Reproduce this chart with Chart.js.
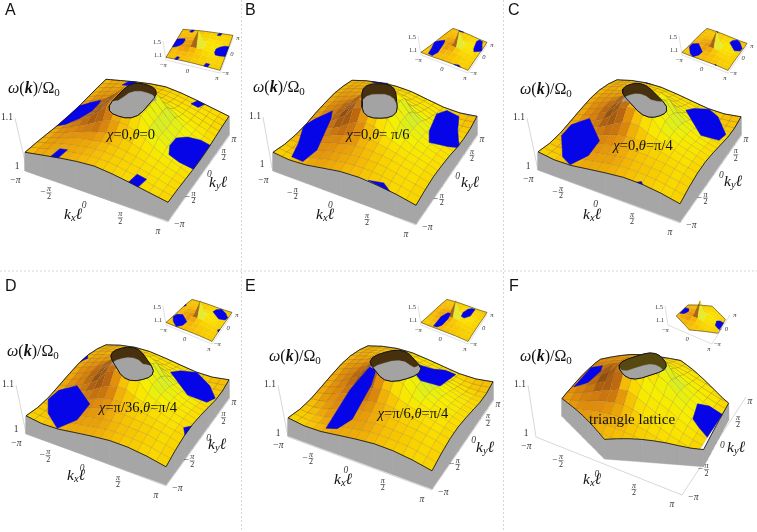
<!DOCTYPE html>
<html>
<head>
<meta charset="utf-8">
<style>
html,body{margin:0;padding:0;background:#fff}
canvas{display:block;filter:blur(0.35px)}
</style>
<script src="https://cdn.jsdelivr.net/npm/chart.js@4/dist/chart.umd.min.js"></script>
</head>
<body>
<canvas id="c" width="757" height="532"></canvas>
<script>
const PI = Math.PI;

// rows go ky=-pi..0, columns kx=-pi..pi, the other half comes from omega(k)=omega(-k)
const omegaA = [
[36,39,42,45,48,51,53,55,56,55,53,51,48,45,42,39,36],
[35,39,43,47,50,53,56,58,58,58,56,53,50,47,43,39,35],
[35,39,44,48,52,55,58,60,61,60,58,55,52,48,44,39,35],
[34,39,44,49,54,58,61,64,65,64,61,58,54,49,44,39,34],
[33,39,44,50,56,62,67,71,72,71,67,62,56,50,44,39,33],
[32,38,45,52,60,70,78,85,86,85,78,70,60,52,45,38,32],
[31,38,46,56,68,82,100,108,108,108,100,82,68,56,46,38,31],
[30,37,45,55,67,84,108,108,108,108,108,84,67,55,45,37,30],
[30,37,45,54,65,82,108,108,108,108,108,82,65,54,45,37,30]];
const omegaB = [
[36,32,33,33,35,39,41,45,47,49,49,50,47,45,43,39,36],
[34,32,31,33,37,42,46,49,52,53,54,54,52,49,46,42,38],
[31,30,31,35,40,46,50,53,56,58,59,58,56,52,48,44,40],
[30,30,33,39,45,51,55,60,62,64,63,62,59,55,51,46,41],
[30,32,37,43,49,56,62,68,70,71,68,65,61,56,52,47,42],
[30,35,40,47,54,62,74,82,85,85,76,69,63,57,52,47,41],
[32,38,44,52,62,74,95,108,108,108,95,74,66,57,51,45,40],
[35,41,47,55,66,82,108,108,108,108,108,84,68,59,51,45,39],
[37,43,49,57,67,83,108,108,108,108,108,83,67,57,49,43,37]];
const omegaC = [
[35,33,31,31,32,34,37,40,42,44,46,46,46,43,42,38,35],
[33,31,30,31,34,38,41,44,47,50,51,51,50,49,46,42,38],
[31,30,31,33,37,42,46,49,52,55,56,55,54,53,49,46,42],
[31,31,33,38,42,48,52,57,60,61,61,60,58,56,53,49,43],
[32,34,37,42,48,54,60,66,68,70,68,65,62,58,54,50,46],
[34,38,42,48,54,62,72,80,84,84,76,70,65,61,55,51,46],
[37,41,46,52,60,72,92,108,108,108,94,76,68,61,56,51,46],
[40,44,49,57,66,80,108,108,108,108,108,84,70,61,55,50,44],
[42,47,52,60,68,84,108,108,108,108,108,84,68,60,52,47,42]];
const omegaD = omegaC;
const omegaE = omegaC;
const omegaF = [
[33,33,33,33,33,33,34,34,34,34,34,33,33,33,33,33,33],
[33,33,33,33,34,37,38,40,40,40,38,37,34,33,33,33,33],
[33,33,33,35,39,42,45,46,47,46,45,42,39,35,33,33,33],
[33,33,35,40,44,49,52,55,56,55,52,49,44,40,35,33,33],
[33,34,39,44,50,56,62,66,68,66,62,56,50,44,39,34,33],
[33,37,42,49,56,65,72,80,84,78,70,62,56,49,42,37,33],
[34,38,45,52,62,72,96,108,100,86,76,68,62,52,45,38,34],
[34,40,46,55,66,80,100,108,108,100,84,72,66,55,46,40,34],
[34,40,47,56,68,84,92,108,108,108,92,84,68,56,47,40,34]];

// blue patches in (kx,ky), each also appears at -k unless the panel lists both
const blueA = [
  [[-PI,-0.94],[-PI,0.82],[-2.6,0.98],[-2.15,1.0],[-2.0,0.6],[-2.0,0],[-2.3,-0.5],[-2.75,-0.85]],
  [[-1.95,-PI],[-1.6,-PI],[-1.5,-2.65],[-1.85,-2.65]],
  [[1.5,-PI],[1.9,-PI],[2.0,-2.65],[1.6,-2.65]]];
const blueB = [
  [[-PI,-1.0],[-PI,-0.8],[-2.9,-0.5],[-2.3,0],[-2.0,-0.6],[-1.6,-2.3],[-1.8,-3.0],[-2.4,-2.9],[-2.7,-2.0],[-3.05,-1.2]],
  [[1.2,-PI],[2.1,-PI],[1.75,-2.95]]];
const blueC = [
  [[-3.0,-1.7],[-2.97,-1.02],[-2.32,-0.61],[-1.08,-1.82],[-1.16,-2.52],[-1.63,-3.12],[-2.18,-2.82]],
  [[1.35,-PI],[1.6,-PI],[1.5,-3.05]]];
const blueD = [
  [[-3.08,-1.7],[-2.95,-1.1],[-2.21,-0.81],[-0.95,-1.8],[-1.07,-2.55],[-1.63,-3.12],[-2.51,-2.48]],
  [[PI,-1.5],[PI,-0.9],[2.95,-1.2]]];
const blueE = [
  [[-1.48,-2.93],[-1.58,-1.02],[-1.15,-0.04],[-0.73,-0.1],[-0.52,-1.09],[-0.65,-2.34],[-1.01,-2.86]]];
const blueF = [
  [[-2.57,-0.85],[-2.4,0.44],[-1.89,0.44],[-1.73,-0.08],[-2.03,-0.63]],
  [[2.39,-0.33],[2.24,0.48],[2.6,0.8],[3.15,0.78],[3.14,-0.7],[2.69,-0.5]]];

const squareEdge = [[-PI,-PI],[PI,-PI],[PI,PI],[-PI,PI]];
const hexEdge = [[-2.77,-1.53],[-0.22,-2.9],[3.27,-1.37],[3.1,1.54],[0.52,2.82],[-2.32,1.16]];

const kTicks = [-PI,-PI/2,0,PI/2,PI];
const kTickLabels = ["\u2212\u03c0","\u2212\u03c0/2","0","\u03c0/2","\u03c0"];
const insetTicks = [-PI,0,PI];
const insetTickLabels = ["\u2212\u03c0","0","\u03c0"];
const zTickLabels = ["1","1.1"];
const insetZLabels = ["1.1","1.5"];
const panelLetters = ["A","B","C","D","E","F"];
const panelNotes = ["\u03c7=0,\u03b8=0","\u03c7=0,\u03b8= \u03c0/6","\u03c7=0,\u03b8=\u03c0/4","\u03c7=\u03c0/36,\u03b8=\u03c0/4","\u03c7=\u03c0/6,\u03b8=\u03c0/4","triangle lattice"];

// layout of each panel: floor corners L,B,R,T, z axis top, label places
const panels = [
 {rows:omegaA,blue:blueA,mirror:true,edge:squareEdge,L:[25,171],B:[168,221],R:[229,135],T:[106,98],zTop:[15,118],zBase:[27,170],
  hole:{t:0,a:0.72,b:1.25,cx:0,cy:0,drop:0.015,wall:"#46300e"},letter:[5,15],om:[8,89],kx:[73,215],ky:[218,183],note:[131,135],
  inL:[166,60],inB:[220,73],inR:[233,38],inT:[183,32]},
 {rows:omegaB,blue:blueB,mirror:true,edge:squareEdge,L:[273,171],B:[416,224],R:[477,135],T:[352,99],zTop:[263,117],zBase:[272,168],
  hole:{t:30,a:0.72,b:1.2,cx:0,cy:0,drop:0.02,wall:"#46300e"},letter:[245,15],om:[253,88],kx:[325,215],ky:[470,183],note:[378,135],
  inL:[421,55],inB:[468,73],inR:[487,45],inT:[453,31]},
 {rows:omegaC,blue:blueC,mirror:true,edge:squareEdge,L:[538,170],B:[680,222],R:[741,135],T:[617,98],zTop:[527,118],zBase:[538,170],
  hole:{t:58,a:0.62,b:1.25,cx:0,cy:0,drop:0.02,wall:"#46300e"},letter:[508,15],om:[520,90],kx:[592,215],ky:[733,182],note:[643,146],
  inL:[682,55],inB:[728,73],inR:[747,46],inT:[707,31]},
 {rows:omegaD,blue:blueD,mirror:true,edge:squareEdge,L:[26,434],B:[166,485],R:[229,398],T:[106,363],zTop:[16,385],zBase:[26,433],
  hole:{t:50,a:0.7,b:1.2,cx:0,cy:0,drop:0.02,wall:"#46300e"},letter:[5,291],om:[7,352],kx:[76,476],ky:[217,445],note:[138,408],
  inL:[166,325],inB:[212,344],inR:[232,315],inT:[192,302]},
 {rows:omegaE,blue:blueE,mirror:true,edge:squareEdge,L:[288,436],B:[432,489],R:[493,400],T:[368,364],zTop:[278,385],zBase:[288,437],
  hole:{t:55,a:0.9,b:1.02,cx:0,cy:0,drop:0.02,wall:"#46300e"},letter:[245,291],om:[269,357],kx:[343,480],ky:[485,448],note:[413,414],
  inL:[421,325],inB:[468,344],inR:[487,315],inT:[447,302]},
 {rows:omegaF,blue:blueF,mirror:false,edge:hexEdge,L:[536,437],B:[682,494],R:[745,397],T:[603,348],zTop:[528,385],zBase:[536,437],
  hole:{t:-36,a:0.6,b:0.95,cx:0.1,cy:0,drop:0.022,wall:"#57480f"},letter:[509,291],om:[520,357],kx:[592,480],ky:[736,448],note:[632,420],
  inL:[668,325],inB:[712,344],inR:[730,315],inT:[689,297]}
];

// outline of the opening at the top of the cone, unit size
const holeU = [1,1,0.92,0.7,0.38,0,-0.38,-0.7,-0.92,-1,-1,-1,-0.92,-0.7,-0.38,0,0.38,0.7,0.92,1,1];
const holeV = [0,0.4,0.68,0.88,0.98,1,0.98,0.88,0.68,0.4,0,-0.4,-0.68,-0.88,-0.98,-1,-0.98,-0.88,-0.68,-0.4,0];

const shadeStops = [
 [40,70,40,15],[26,120,65,15],[16,185,100,15],[9,225,140,10],[3,245,185,5],[-1,248,205,0],
 [-6,250,225,0],[-12,245,240,0],[-18,225,240,20],[-26,200,235,60],[-40,215,240,130]];

const STEP = 2*PI/16;

// the plot range stops at 1.1, so the top of the cone is cut there
function gridVal(rows,i,j) {
	i = Math.max(0,Math.min(16,i));
	j = Math.max(0,Math.min(16,j));
	return Math.min(100,i<=8 ? rows[i][j] : rows[16-i][16-j]);
}

function omegaAt(rows,kx,ky) {
	var fx = Math.min(16,Math.max(0,(kx+PI)/STEP));
	var fy = Math.min(16,Math.max(0,(ky+PI)/STEP));
	var j = Math.min(15,Math.floor(fx)), i = Math.min(15,Math.floor(fy));
	var u = fx-j, v = fy-i;
	var w = gridVal(rows,i,j)*(1-u)*(1-v)+gridVal(rows,i,j+1)*u*(1-v)+gridVal(rows,i+1,j)*(1-u)*v+gridVal(rows,i+1,j+1)*u*v;
	return 1+w/1000;
}

// perspective map of the unit square onto the four floor corners
function makeMap(view) {
	var L=view.L,B=view.B,R=view.R,T=view.T;
	var dx1=B[0]-R[0],dx2=T[0]-R[0],sx=L[0]-B[0]+R[0]-T[0];
	var dy1=B[1]-R[1],dy2=T[1]-R[1],sy=L[1]-B[1]+R[1]-T[1];
	var det=dx1*dy2-dx2*dy1;
	var g=(sx*dy2-dx2*sy)/det,h=(dx1*sy-sx*dy1)/det;
	view.m=[B[0]-L[0]+g*B[0],T[0]-L[0]+h*T[0],L[0],B[1]-L[1]+g*B[1],T[1]-L[1]+h*T[1],L[1],g,h];
	return view;
}

function project(view,kx,ky,w) {
	var u=(kx+PI)/(2*PI),v=(ky+PI)/(2*PI),m=view.m;
	var d=m[6]*u+m[7]*v+1;
	return {x:(m[0]*u+m[1]*v+m[2])/d,y:(m[3]*u+m[4]*v+m[5])/d-(w-view.z0)*view.zs};
}

function shade(rows,i,j,st,gain) {
	var sx=0,sy=0;
	for (var n=0;n<=st;n++) {
		sx += gridVal(rows,i+n,j+st+1)-gridVal(rows,i+n,j-1);
		sy += gridVal(rows,i+st+1,j+n)-gridVal(rows,i-1,j+n);
	}
	sx = sx/(st+1)/(st+2);
	sy = sy/(st+1)/(st+2);
	var s = gain*(1.2*sx+0.3*sy);
	if (s>40) s = 40;
	if (s<-40) s = -40;
	for (var k=0;k<shadeStops.length-1;k++) {
		var p = shadeStops[k], q = shadeStops[k+1];
		if (s<=p[0] && s>=q[0]) {
			var t = (p[0]-s)/(p[0]-q[0]);
			return "rgb("+Math.round(p[1]+(q[1]-p[1])*t)+","+Math.round(p[2]+(q[2]-p[2])*t)+","+Math.round(p[3]+(q[3]-p[3])*t)+")";
		}
	}
	return "#f5c000";
}

// cut a cell polygon with the convex boundary
function clipPoly(pts,edge) {
	var out = pts;
	for (var e=0;e<edge.length;e++) {
		var a = edge[e], b = edge[(e+1)%edge.length], res = [];
		var side = function(p) { return (b[0]-a[0])*(p.ky-a[1])-(b[1]-a[1])*(p.kx-a[0]); };
		for (var n=0;n<out.length;n++) {
			var p = out[n], q = out[(n+1)%out.length], sp = side(p), sq = side(q);
			if (sp>=0) res.push(p);
			if ((sp>=0)!==(sq>=0)) {
				var t = sp/(sp-sq);
				res.push({kx:p.kx+(q.kx-p.kx)*t,ky:p.ky+(q.ky-p.ky)*t,w:p.w+(q.w-p.w)*t});
			}
		}
		out = res;
		if (!out.length) break;
	}
	return out;
}

var layers = [];

function addPoly(pts,fill,border,bw) {
	if (pts.length<3) return;
	var data = pts.concat([pts[0]]);
	layers.push({data:data,showLine:true,pointRadius:0,fill:fill?'shape':false,backgroundColor:fill||'transparent',
		borderColor:border||fill,borderWidth:bw===undefined?0.5:bw,tension:0});
}

function addLine(pts,color,bw,dash) {
	layers.push({data:pts,showLine:true,pointRadius:0,fill:false,borderColor:color,borderWidth:bw,borderDash:dash||[],tension:0});
}

function boundary(rows,edge,pieces) {
	var out = [];
	for (var e=0;e<edge.length;e++) {
		var a = edge[e], b = edge[(e+1)%edge.length];
		for (var n=0;n<pieces;n++) {
			var kx = a[0]+(b[0]-a[0])*n/pieces, ky = a[1]+(b[1]-a[1])*n/pieces;
			out.push({kx:kx,ky:ky,w:omegaAt(rows,kx,ky)});
		}
	}
	return out;
}

function drawSurface(p,view,st,inset) {
	var rows = p.rows;
	var isHex = p.edge===hexEdge;
	var rim = boundary(rows,p.edge,8);
	var bottom = view.z0;

	// side wall of the slab
	if (!inset) {
		for (var n=0;n<rim.length;n++) {
			var a = rim[n], b = rim[(n+1)%rim.length];
			addPoly([project(view,a.kx,a.ky,a.w),project(view,b.kx,b.ky,b.w),project(view,b.kx,b.ky,bottom),project(view,a.kx,a.ky,bottom)],"#a6a6a6","#a6a6a6",0.5);
		}
	}

	// far cells first
	for (var i=16-st;i>=0;i-=st) {
		for (var j=0;j<=16-st;j+=st) {
			var cell = [[i,j],[i,j+st],[i+st,j+st],[i+st,j]].map(function(c) {
				var w = 1+gridVal(rows,c[0],c[1])/1000;
				if (inset && c[0]===8 && c[1]===8) w = 1.5;
				return {kx:-PI+c[1]*STEP,ky:-PI+c[0]*STEP,w:w};
			});
			if (isHex) cell = clipPoly(cell,p.edge);
			if (cell.length<3) continue;
			var col = shade(rows,i,j,st,inset?0.5:1.15);
			if (inset && (i===8||i===6) && (j===6||j===8)) col = j===6 ? "#a8641a" : "#e6ea30";
			addPoly(cell.map(function(c){return project(view,c.kx,c.ky,c.w);}),col,inset?col:"rgba(125,90,25,0.35)",inset?0.3:0.5);
		}
	}

	// blue patches
	p.blue.forEach(function(poly) {
		var list = p.mirror ? [poly,poly.map(function(c){return [-c[0],-c[1]];})] : [poly];
		list.forEach(function(q) {
			addPoly(q.map(function(c){return project(view,c[0],c[1],omegaAt(rows,c[0],c[1]));}),"#0505e8","#0505e8",0.5);
		});
	});

	// outline of the surface
	addPoly(rim.map(function(c){return project(view,c.kx,c.ky,c.w);}),null,"#1c1c1c",inset?0.5:0.9);
}

function drawHole(p,view) {
	var h = p.hole, th = h.t*PI/180, top = 1.1;
	var c = Math.cos(th), s = Math.sin(th);
	var pts = holeU.map(function(u,n) {
		return {kx:h.cx+h.a*u*c-h.b*holeV[n]*s,ky:h.cy+h.a*u*s+h.b*holeV[n]*c};
	});
	var outer = pts.map(function(q){return project(view,q.kx,q.ky,top);});
	var cy = 0, ry = 0;
	outer.forEach(function(q){cy+=q.y/outer.length;});
	outer.forEach(function(q){ry=Math.max(ry,Math.abs(q.y-cy));});
	addPoly(outer,h.wall,h.wall,0.5);
	var inner = pts.map(function(q,n) {
		var f = Math.min(1,Math.max(0,(cy-outer[n].y)/(0.45*ry)));
		return project(view,q.kx,q.ky,top-h.drop*f);
	});
	addPoly(inner,"#a3a3a3","#a3a3a3",0.3);
	addPoly(outer,null,"#141414",1);
}

panels.forEach(function(p) {
	var view = makeMap({L:p.L,B:p.B,R:p.R,T:p.T,z0:1,zs:520});
	var small = makeMap({L:p.inL,B:p.inB,R:p.inR,T:p.inT,z0:0.96,zs:35});
	p.view = view; p.small = small;

	// axes of the box
	addLine([{x:p.zTop[0],y:p.zTop[1]},{x:p.zBase[0],y:p.zBase[1]},{x:p.B[0],y:p.B[1]+1},{x:p.R[0]+1,y:p.R[1]}],"#d2d2d2",0.9);
	drawSurface(p,view,1,false);
	drawHole(p,view);

	addLine([{x:p.inL[0]-3,y:p.inL[1]-19},{x:p.inL[0],y:p.inL[1]},{x:p.inB[0],y:p.inB[1]},{x:p.inR[0],y:p.inR[1]}],"#d2d2d2",0.7);
	drawSurface(p,small,2,true);
});

// dashed frame lines between the panels
[[241.5,0,241.5,532],[503.5,0,503.5,532],[0,271,757,271]].forEach(function(s) {
	addLine([{x:s[0],y:s[1]},{x:s[2],y:s[3]}],"#cccccc",0.8,[2,2]);
});

function putRuns(ctx,x,y,runs,center) {
	var total = 0;
	runs.forEach(function(r){ctx.font=r[1];total+=ctx.measureText(r[0]).width;});
	var px = center ? x-total/2 : x;
	runs.forEach(function(r) {
		ctx.font = r[1];
		ctx.fillText(r[0],px,y+(r[2]||0));
		px += ctx.measureText(r[0]).width;
	});
}

const SERIF = '"Liberation Serif","DejaVu Serif",serif';

function tickText(ctx,label,x,y,size) {
	ctx.textAlign = "center";
	if (label.indexOf("/2")<0) {
		ctx.font = "italic "+size+"px "+SERIF;
		ctx.fillText(label,x,y);
		return;
	}
	var neg = label.charAt(0)==="\u2212";
	var fs = size-1.5;
	if (neg) {
		ctx.font = size+"px "+SERIF;
		ctx.fillText("\u2212",x-6,y);
	}
	ctx.font = "italic "+fs+"px "+SERIF;
	ctx.fillText("\u03c0",x,y-3.6);
	ctx.font = fs+"px "+SERIF;
	ctx.fillText("2",x,y+3.8);
	ctx.fillRect(x-2.5,y-0.2,5,0.5);
}

const labelPlugin = {
	id:'labels',
	afterDraw:function(chart) {
		var ctx = chart.ctx, sx = chart.scales.x, sy = chart.scales.y;
		function X(v){return sx.getPixelForValue(v);}
		function Y(v){return sy.getPixelForValue(v);}
		ctx.save();
		ctx.textBaseline = "middle";
		ctx.fillStyle = "#111";
		panels.forEach(function(p,n) {
			var v = p.view, m = p.small;
			ctx.textAlign = "left";
			ctx.font = '16px "Liberation Sans",Arial,sans-serif';
			ctx.textBaseline = "alphabetic";
			ctx.fillText(panelLetters[n],X(p.letter[0]),Y(p.letter[1]));
			ctx.textBaseline = "middle";

			// omega(k)/Omega_0
			var f = "16px "+SERIF;
			putRuns(ctx,X(p.om[0]),Y(p.om[1]),[["\u03c9","italic "+f],["(",f],["k","italic bold "+f],[")/\u03a9",f],["0","11px "+SERIF,4]],false);
			var k = "italic 15.5px "+SERIF, sub = "italic 10.5px "+SERIF;
			putRuns(ctx,X(p.kx[0]),Y(p.kx[1]),[["k",k],["x",sub,3],["\u2113",k]],true);
			putRuns(ctx,X(p.ky[0]),Y(p.ky[1]),[["k",k],["y",sub,3],["\u2113",k]],true);

			// note on the surface
			var runs = panelNotes[n].match(/[\u03c7\u03b8]|[^\u03c7\u03b8]+/g).map(function(t) {
				return [t,(/[\u03c7\u03b8]/.test(t)?"italic ":"")+(n===5?"15px ":"14.5px ")+SERIF];
			});
			putRuns(ctx,X(p.note[0]),Y(p.note[1]),runs,true);

			// big axes
			ctx.fillStyle = "#333";
			kTicks.forEach(function(t,i) {
				var q = project(v,t,-PI,1);
				tickText(ctx,kTickLabels[i],X(q.x-10),Y(q.y+9+(i===0?0:1)),9.5);
				var r = project(v,PI,t,1);
				tickText(ctx,kTickLabels[i],X(r.x+(i===0?11:(i===4?5:8))),Y(r.y+(i===0?3:(i===4?4:1))),9.5);
			});
			ctx.textAlign = "center";
			ctx.font = "9.5px "+SERIF;
			ctx.fillText(zTickLabels[0],X(p.zBase[0]-10),Y(p.zBase[1]-4));
			ctx.fillText(zTickLabels[1],X(p.zTop[0]-8),Y(p.zTop[1]-1));

			// small axes
			insetTicks.forEach(function(t,i) {
				var q = project(m,t,-PI,0.96);
				tickText(ctx,insetTickLabels[i],X(q.x-3),Y(q.y+5),6.5);
				var r = project(m,PI,t,0.96);
				tickText(ctx,insetTickLabels[i],X(r.x+5),Y(r.y),6.5);
			});
			ctx.textAlign = "center";
			ctx.font = "6.5px "+SERIF;
			ctx.fillText(insetZLabels[0],X(p.inL[0]-8),Y(p.inL[1]-5));
			ctx.fillText(insetZLabels[1],X(p.inL[0]-9),Y(p.inL[1]-18));
			ctx.fillStyle = "#111";
		});
		ctx.restore();
	}
};

new Chart(document.getElementById('c'), {
	type: 'scatter',
	data: { datasets: layers.reverse() },
	options: {
		animation: false,
		responsive: false,
		events: [],
		parsing: false,
		layout: { padding: 0 },
		elements: { point: { radius: 0 } },
		plugins: { legend: { display: false }, tooltip: { enabled: false }, title: { display: false } },
		scales: {
			x: { type: 'linear', min: 0, max: 757, display: false },
			y: { type: 'linear', min: 0, max: 532, reverse: true, display: false }
		}
	},
	plugins: [labelPlugin]
});
</script>
</body>
</html>
